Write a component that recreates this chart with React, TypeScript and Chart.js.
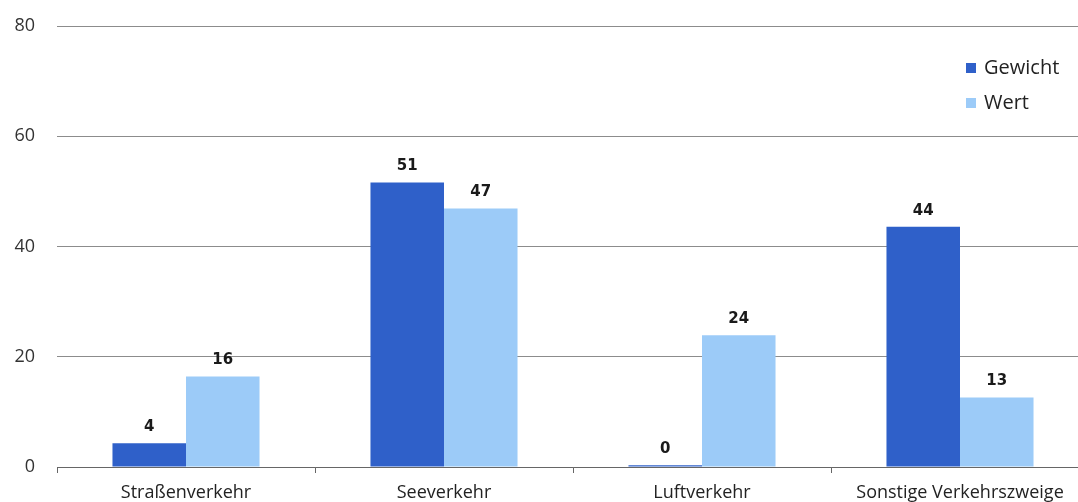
import React, { useEffect, useRef } from "react";
import { Chart, registerables } from "chart.js";

Chart.register(...registerables);

const categories = ["Straßenverkehr", "Seeverkehr", "Luftverkehr", "Sonstige Verkehrszweige"];
const gewicht = [4.3, 51.6, 0.3, 43.6];
const wert = [16.4, 46.9, 23.9, 12.6];
const gewichtLabels = ["4", "51", "0", "44"];
const wertLabels = ["16", "47", "24", "13"];
const yTicks = [0, 20, 40, 60, 80];

const DARK = "#2f60c9";
const LIGHT = "#9ccbf8";
const FONT = "'Open Sans', 'Noto Sans', sans-serif";

const valueLabelPlugin = {
  id: "valueLabels",
  afterDatasetsDraw(chart: any) {
    const ctx = chart.ctx;
    const lists = [gewichtLabels, wertLabels];
    ctx.save();
    ctx.font = "bold 15px 'DejaVu Sans', sans-serif";
    ctx.fillStyle = "#1a1a1a";
    ctx.textAlign = "center";
    ctx.textBaseline = "middle";
    chart.data.datasets.forEach((ds: any, i: number) => {
      const meta = chart.getDatasetMeta(i);
      meta.data.forEach((el: any, j: number) => {
        ctx.fillText(lists[i][j], el.x, el.y - 16);
      });
    });
    ctx.restore();
  },
};

const legendPlugin = {
  id: "customLegend",
  afterDraw(chart: any) {
    const ctx = chart.ctx;
    ctx.save();
    ctx.font = `20px ${FONT}`;
    ctx.textBaseline = "middle";
    ctx.textAlign = "left";
    chart.data.datasets.forEach((ds: any, i: number) => {
      const y = 68 + i * 35;
      ctx.fillStyle = ds.backgroundColor;
      ctx.fillRect(966, y - 5, 10, 10);
      ctx.fillStyle = "#222";
      ctx.fillText(ds.label, 984, y);
    });
    ctx.restore();
  },
};

export default function App() {
  const ref = useRef<HTMLCanvasElement | null>(null);
  useEffect(() => {
    if (!ref.current) return;
    const chart = new Chart(ref.current, {
      type: "bar",
      data: {
        labels: categories,
        datasets: [
          { label: "Gewicht", data: gewicht, backgroundColor: DARK, categoryPercentage: 0.57, barPercentage: 1 },
          { label: "Wert", data: wert, backgroundColor: LIGHT, categoryPercentage: 0.57, barPercentage: 1 },
        ],
      },
      options: {
        responsive: false,
        animation: false,
        layout: { padding: { top: 26, right: 11, left: 0, bottom: 0 } },
        plugins: { legend: { display: false }, tooltip: { enabled: false } },
        scales: {
          x: {
            grid: { display: true, drawOnChartArea: false, drawTicks: true, tickLength: 6, color: "#666", offset: true },
            border: { display: true, color: "#666", width: 1 },
            ticks: { font: { family: FONT, size: 18 }, color: "#222", padding: 9, maxRotation: 0, autoSkip: false },
            afterFit: (s: any) => { s.height = 35; s.paddingLeft = 0; s.paddingRight = 0; },
          },
          y: {
            min: 0,
            max: 80,
            afterBuildTicks: (s: any) => { s.ticks = yTicks.map((v) => ({ value: v })); },
            grid: { color: "#8c8c8c", drawTicks: false, lineWidth: 1 },
            border: { display: false },
            ticks: { font: { family: FONT, size: 18 }, color: "#333", padding: 22 },
            afterFit: (s: any) => { s.width = 57; s.paddingTop = 0; s.paddingBottom = 0; },
          },
        },
      },
      plugins: [valueLabelPlugin, legendPlugin],
    });
    return () => chart.destroy();
  }, []);
  return (
    <div style={{ position: "fixed", left: 0, top: 0, width: 1078, height: 502, overflow: "hidden", background: "#fff" }}>
      <canvas ref={ref} width={1100} height={502} style={{ display: "block" }} />
    </div>
  );
}
